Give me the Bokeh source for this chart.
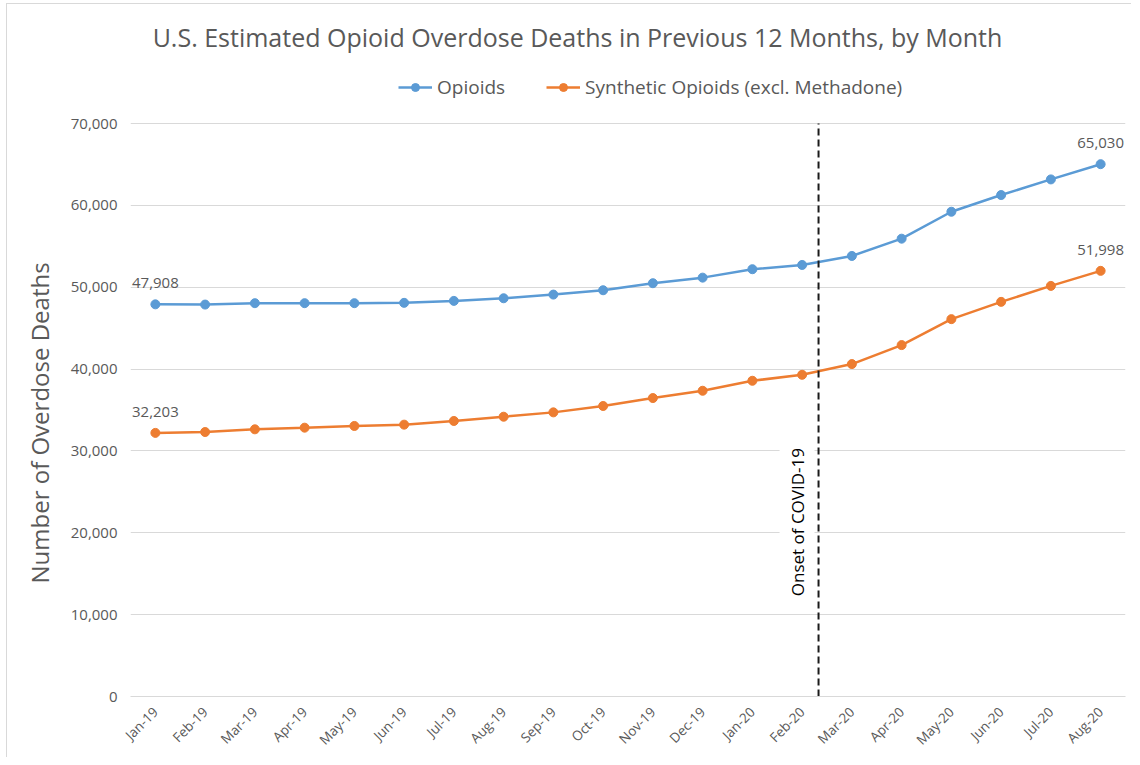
from math import pi
from bokeh.plotting import figure
from bokeh.models import (ColumnDataSource, Label, Legend, LegendItem, Title,
                          NumeralTickFormatter, FixedTicker, Range1d, FactorRange)
from bokeh.core.properties import value
from bokeh.embed import file_html
from bokeh.resources import INLINE

# ---------------- data ----------------
months = ["Jan-19", "Feb-19", "Mar-19", "Apr-19", "May-19", "Jun-19", "Jul-19",
          "Aug-19", "Sep-19", "Oct-19", "Nov-19", "Dec-19", "Jan-20", "Feb-20",
          "Mar-20", "Apr-20", "May-20", "Jun-20", "Jul-20", "Aug-20"]
opioids = [47908, 47880, 48050, 48050, 48050, 48090, 48330, 48650, 49100, 49630,
           50490, 51170, 52200, 52720, 53820, 55930, 59220, 61260, 63170, 65030]
synthetic = [32203, 32310, 32640, 32840, 33050, 33210, 33660, 34180, 34710, 35490,
             36460, 37350, 38570, 39300, 40610, 42930, 46100, 48210, 50160, 51998]
y_ticks = [0, 10000, 20000, 30000, 40000, 50000, 60000, 70000]
series_names = ["Opioids", "Synthetic Opioids (excl. Methadone)"]
onset_month = "Feb-20"
onset_text = "Onset of COVID-19"
title_text = "U.S. Estimated Opioid Overdose Deaths in Previous 12 Months, by Month"
y_label = "Number of Overdose Deaths"

FONT = "Open Sans"
GRAY = "#595959"
BLUE = "#5b9bd5"
ORANGE = "#ed7d31"

# layout (pixels). The canvas is shifted by (OX, OY) inside a thin chart border.
OX, OY = 7, 4
PAGE_BOTTOM = 696          # page y of the zero line
PLOT_H = 573               # pixels for 0..70,000
FRAME_H = PAGE_BOTTOM - OY  # frame runs from canvas top to the zero line
y_max = y_ticks[-1] * FRAME_H / PLOT_H


def ydata(page_y):
    return (PAGE_BOTTOM - page_y) / PLOT_H * y_ticks[-1]


p = figure(width=1125, height=FRAME_H + 62, x_range=FactorRange(*months),
           y_range=Range1d(0, y_max), output_backend="svg", toolbar_location=None,
           min_border_left=130 - OX, min_border_right=7, min_border_top=0,
           min_border_bottom=62)
p.styles = {"margin-left": f"{OX - 1}px", "margin-top": f"{OY - 1}px",
            "border-left": "1px solid #d9d9d9", "border-top": "1px solid #d9d9d9"}
p.outline_line_color = None
p.background_fill_color = "white"
p.border_fill_color = "white"
p.title.text = ""

p.xgrid.grid_line_color = None
p.ygrid.grid_line_color = "#d9d9d9"
p.ygrid.grid_line_width = 1

p.yaxis.ticker = FixedTicker(ticks=y_ticks)
p.yaxis.formatter = NumeralTickFormatter(format="0,0")
p.yaxis.axis_line_color = None
p.yaxis.major_tick_line_color = None
p.yaxis.minor_tick_line_color = None
p.yaxis.major_tick_out = 0
p.yaxis.major_tick_in = 0
p.yaxis.major_label_standoff = 13
p.yaxis.major_label_text_font = FONT
p.yaxis.major_label_text_font_size = "15px"
p.yaxis.major_label_text_color = GRAY

p.xaxis.axis_line_color = "#d9d9d9"
p.xaxis.major_tick_line_color = None
p.xaxis.minor_tick_line_color = None
p.xaxis.major_tick_out = 0
p.xaxis.major_tick_in = 0
p.xaxis.major_label_standoff = 13
p.xaxis.major_label_orientation = pi / 4
p.xaxis.major_label_text_font = FONT
p.xaxis.major_label_text_font_size = "13.5px"
p.xaxis.major_label_text_color = GRAY

# y-axis title as a side title, placed along the plotting area
p.add_layout(Title(text=y_label, align="left", offset=113, standoff=24,
                   text_font=FONT, text_font_size="24px", text_font_style="normal",
                   text_color=GRAY), "left")

src = ColumnDataSource(dict(x=months, a=opioids, b=synthetic))

l1 = p.line("x", "a", source=src, line_color=BLUE, line_width=2.5)
s1 = p.scatter("x", "a", source=src, size=9, fill_color=BLUE, line_color=BLUE)
l2 = p.line("x", "b", source=src, line_color=ORANGE, line_width=2.5)
s2 = p.scatter("x", "b", source=src, size=9, fill_color=ORANGE, line_color=ORANGE)

# end-point data labels
lab_idx = [0, len(months) - 1]
lab_src = ColumnDataSource(dict(
    x=[months[i] for i in lab_idx] * 2,
    y=[opioids[i] for i in lab_idx] + [synthetic[i] for i in lab_idx],
    t=[f"{opioids[i]:,}" for i in lab_idx] + [f"{synthetic[i]:,}" for i in lab_idx],
))
p.text("x", "y", text="t", source=lab_src, text_align="center",
       text_baseline="middle", y_offset=-21, text_font=value(FONT),
       text_font_size="15px", text_color=GRAY)

# COVID onset line
onset_pos = months.index(onset_month) + 0.83
p.segment(x0=[onset_pos], y0=[y_ticks[0]], x1=[onset_pos], y1=[y_ticks[-1]],
          line_color="#1a1a1a", line_dash="7 4", line_width=2)
p.add_layout(Label(x=onset_pos, y=21300, text=onset_text, angle=pi / 2,
                   text_align="center", text_baseline="bottom", x_offset=-4,
                   background_fill_color="white", padding=6,
                   text_font=FONT, text_font_size="17px", text_color="black"))

# chart title
p.add_layout(Label(x=(577 - 130) / 49.75, y=ydata(36), text=title_text,
                   text_align="center", text_baseline="middle",
                   text_font=FONT, text_font_size="25px", text_color=GRAY))

legend = Legend(items=[LegendItem(label=series_names[0], renderers=[l1, s1]),
                       LegendItem(label=series_names[1], renderers=[l2, s2])],
                orientation="horizontal", location=(268, PAGE_BOTTOM - 100),
                padding=0, margin=0, spacing=41, glyph_width=34,
                label_standoff=5, border_line_color=None,
                background_fill_alpha=0, label_text_font=FONT,
                label_text_font_size="19px", label_text_color=GRAY)
p.add_layout(legend, "center")

open("out.html", "w").write(file_html(p, INLINE))
